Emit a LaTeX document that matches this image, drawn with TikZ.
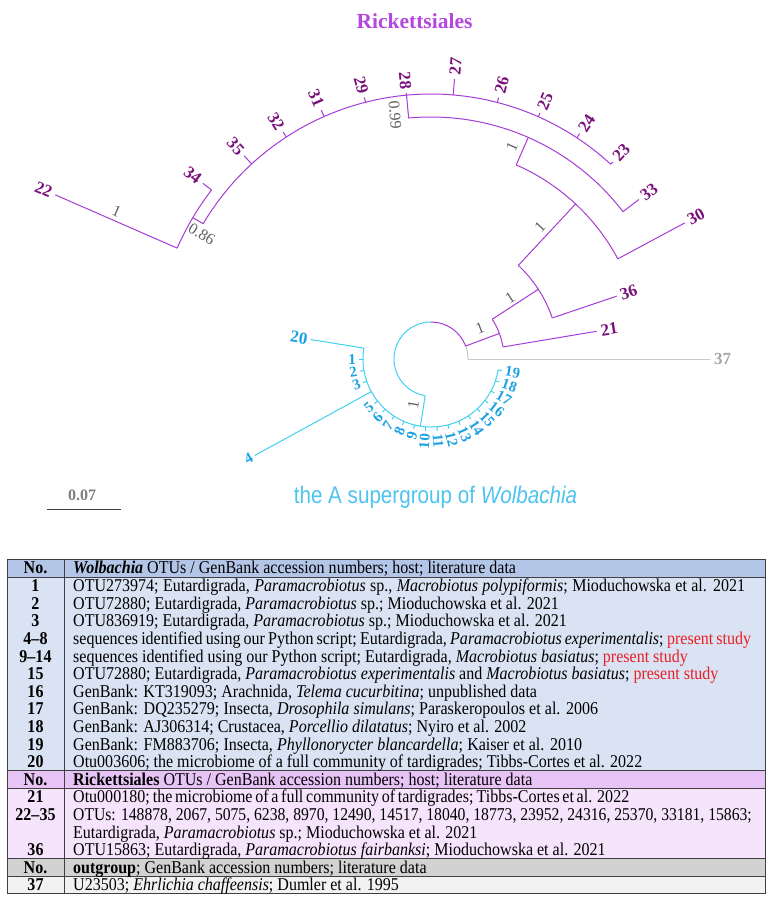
\documentclass[tikz,border=0pt]{standalone}
\usepackage{fontspec}
\setmainfont{Liberation Serif}
\newfontfamily\tabfont[FakeStretch=0.89]{Liberation Serif}
\newfontfamily\tabfontn[FakeStretch=0.87]{Liberation Serif}
\newfontfamily\narrowsans[FakeStretch=0.86]{Liberation Sans}
\definecolor{rickline}{RGB}{166,60,214}
\definecolor{ricklab}{RGB}{122,16,122}
\definecolor{wolbline}{RGB}{64,208,240}
\definecolor{wolblab}{RGB}{27,161,226}
\definecolor{outline}{RGB}{200,200,200}
\definecolor{outlab}{RGB}{165,165,165}
\definecolor{supgray}{RGB}{96,96,96}
\definecolor{titlepurple}{RGB}{179,71,224}
\definecolor{titleblue}{RGB}{77,195,240}
\definecolor{hone}{RGB}{180,198,231}
\definecolor{rone}{RGB}{218,227,243}
\definecolor{htwo}{RGB}{232,196,246}
\definecolor{rtwo}{RGB}{246,228,252}
\definecolor{hthree}{RGB}{210,210,210}
\definecolor{rthree}{RGB}{242,242,242}
\definecolor{tabline}{RGB}{64,64,64}
\definecolor{presred}{RGB}{235,30,35}
\tikzset{
  rick/.style={draw=rickline, line width=1pt},
  wolb/.style={draw=wolbline, line width=1pt},
  outg/.style={draw=outline, line width=1pt},
  rlab/.style={text=ricklab, font=\fontsize{17}{17}\selectfont\bfseries, inner sep=0pt},
  wlab/.style={text=wolblab, font=\fontsize{15}{15}\selectfont\bfseries, inner sep=0pt},
  blab/.style={text=supgray, font=\fontsize{16}{16}\selectfont, inner sep=0pt},
  cell/.style={anchor=base west, inner sep=0pt, font=\tabfont\fontsize{18}{18}\selectfont},
  numcell/.style={anchor=base, inner sep=0pt, font=\tabfont\fontsize{18}{18}\selectfont\bfseries},
  tabrule/.style={draw=tabline, line width=0.8pt},
}
\newcommand{\leaflab}[5]{%
  \ifdim #2pt>90pt\relax
    \ifdim #2pt<270pt\relax
      \node[#4, anchor=east, rotate={#2-180}] (#1) at (#2:#3) {#5};
    \else
      \node[#4, anchor=west, rotate=#2] (#1) at (#2:#3) {#5};
    \fi
  \else
    \node[#4, anchor=west, rotate=#2] (#1) at (#2:#3) {#5};
  \fi}
\newcommand{\rleaf}[4]{%
  \coordinate (b#1) at (#2:#3);
  \coordinate (t#1) at (#2:#4);
  \draw[rick] (b#1) -- (t#1);
  \pgfmathsetmacro{\labr}{#4+4}
  \leaflab{lab#1}{#2}{\labr}{rlab}{#1}}
\newcommand{\wleaf}[5][]{%
  \coordinate (b#2) at (#3:#4);
  \coordinate (t#2) at (#3:#5);
  \draw[wolb] (b#2) -- (t#2);
  \pgfmathsetmacro{\labr}{#5+3}
  \leaflab{lab#2}{#3}{\labr}{wlab,#1}{#2}}
\newcommand{\trow}[4]{%
  \node[numcell] (#1n) at (35.5,{-(#2+5.8)}) {#3};
  \node[cell] (#1t) at (73,{-(#2+5.8)}) {#4};}
\hbadness=10000
\begin{document}
\begin{tikzpicture}[x=1pt,y=1pt]
\useasboundingbox (0,0) rectangle (772,-912);
% titles
\node[text=titlepurple, font=\fontsize{21.5}{21.5}\selectfont\bfseries] (ttl) at (414.5,-21.5) {Rickettsiales};
\node[text=titleblue, font=\narrowsans\fontsize{24}{24}\selectfont] (ttw) at (435.5,-497) {the A supergroup of \textit{Wolbachia}};
% scale bar
\coordinate (sba) at (47,-509.5);
\coordinate (sbb) at (121,-509.5);
\draw[draw=tabline, line width=1.2pt] (sba) -- (sbb);
\node[text=gray, font=\fontsize{16}{16}\selectfont\bfseries] (sbl) at (82,-495) {0.07};
% tree
\begin{scope}[shift={(431,-359)}]
  % root
  \coordinate (root) at (0:37);
  \coordinate (Ab) at (20.5:37);
  \coordinate (Wb) at (261:37);
  \draw[outg] (root) arc[start angle=0, end angle=20.5, radius=37];
  \draw[rick] (Ab) arc[start angle=20.5, end angle=90, radius=37];
  \draw[wolb] (90:37) arc[start angle=90, end angle=261, radius=37];
  % outgroup
  \coordinate (t37) at (0:279);
  \draw[outg] (root) -- (t37);
  \node[text=outlab, font=\fontsize{17}{17}\selectfont\bfseries, inner sep=0pt, anchor=west] (lab37) at (0:283) {37};
  % Rickettsiales
  \coordinate (A) at (20.5:73);
  \draw[rick] (Ab) -- (A);
  \draw[rick] (9.5:73) arc[start angle=9.5, end angle=33, radius=73];
  \rleaf{21}{9.5}{73}{168}
  \coordinate (Bb) at (33:73); \coordinate (B) at (33:128);
  \draw[rick] (Bb) -- (B);
  \draw[rick] (18.7:128) arc[start angle=18.7, end angle=47, radius=128];
  \rleaf{36}{18.7}{128}{196}
  \coordinate (Cb) at (47:128); \coordinate (C) at (47:212);
  \draw[rick] (Cb) -- (C);
  \draw[rick] (28.2:212) arc[start angle=28.2, end angle=66.3, radius=212];
  \rleaf{30}{28.2}{212}{288}
  \coordinate (Db) at (66.3:212); \coordinate (D) at (66.3:242);
  \draw[rick] (Db) -- (D);
  \draw[rick] (37.5:242) arc[start angle=37.5, end angle=95.3, radius=242];
  \rleaf{33}{37.5}{242}{262}
  \coordinate (Eb) at (95.3:242); \coordinate (E) at (95.3:265);
  \draw[rick] (Eb) -- (E);
  \draw[rick] (47.3:265) arc[start angle=47.3, end angle=149.3, radius=265];
  \rleaf{23}{47.3}{265}{268}
  \rleaf{24}{56.6}{265}{270}
  \rleaf{25}{66.1}{265}{269}
  \rleaf{26}{75.5}{265}{270}
  \rleaf{27}{85.2}{265}{281}
  \rleaf{28}{95.3}{265}{267}
  \rleaf{29}{104.3}{265}{270}
  \rleaf{31}{113.8}{265}{272}
  \rleaf{32}{123.1}{265}{271}
  \rleaf{35}{132.6}{265}{276}
  \coordinate (Fb) at (149.3:265); \coordinate (F) at (149.3:277);
  \draw[rick] (Fb) -- (F);
  \draw[rick] (142.4:277) arc[start angle=142.4, end angle=156.4, radius=277];
  \rleaf{34}{142.4}{277}{288}
  \rleaf{22}{156.4}{277}{410}
  % Wolbachia
  \coordinate (W) at (261:68);
  \draw[wolb] (Wb) -- (W);
  \draw[wolb] (170.8:68) arc[start angle=170.8, end angle=350.8, radius=68];
  \wleaf[font=\fontsize{17}{17}\selectfont\bfseries]{20}{170.8}{68}{122}
  \wleaf{1}{180.27}{68}{72}
  \wleaf{2}{189.75}{68}{72}
  \wleaf{3}{199.22}{68}{72}
  \wleaf{4}{208.69}{68}{201}
  \wleaf{5}{218.17}{68}{72}
  \wleaf{6}{227.64}{68}{72}
  \wleaf{7}{237.12}{68}{72}
  \wleaf{8}{246.59}{68}{72}
  \wleaf{9}{256.06}{68}{72}
  \wleaf{10}{265.54}{68}{72}
  \wleaf{11}{275.01}{68}{72}
  \wleaf{12}{284.48}{68}{72}
  \wleaf{13}{293.96}{68}{72}
  \wleaf{14}{303.43}{68}{72}
  \wleaf{15}{312.91}{68}{72}
  \wleaf{16}{322.38}{68}{72}
  \wleaf{17}{331.85}{68}{72}
  \wleaf{18}{341.33}{68}{72}
  \wleaf{19}{350.8}{68}{72}
  % support values
  \node[blab, rotate=21] (sA) at (49,31) {1};
  \node[blab, rotate=33] (sB) at (79,61) {1};
  \node[blab, rotate=47] (sC) at (109,132) {1};
  \node[blab, rotate=66] (sD) at (81,212) {1};
  \node[blab, rotate=-85] (sE) at (-36,244) {0.99};
  \node[blab, rotate=-31] (sF) at (-229.3,125) {0.86};
  \node[blab, rotate=-23.6] (s22) at (-314.3,147.3) {1};
  \node[blab, rotate=81] (sW) at (-17.7,-46) {1};
\end{scope}
% table backgrounds
\fill[hone] (7,-559) rectangle (765,-577);
\fill[rone] (7,-577) rectangle (765,-770.6);
\fill[htwo] (7,-770.6) rectangle (765,-788.2);
\fill[rtwo] (7,-788.2) rectangle (765,-858.6);
\fill[hthree] (7,-858.6) rectangle (765,-876.2);
\fill[rthree] (7,-876.2) rectangle (765,-893.8);
\draw[tabrule] (7,-559) rectangle (765,-893.8);
\draw[tabrule] (64,-559) -- (64,-893.8);
\foreach \yy in {577,770.6,788.2,858.6,876.2} {\draw[tabrule] (7,-\yy) -- (765,-\yy);}
% table text
\trow{ha}{568}{No.}{\textbf{\textit{Wolbachia}} OTUs / GenBank accession numbers; host; literature data}
\trow{ra}{585.8}{1}{\hbox to 672pt{OTU273974; Eutardigrada, \textit{Paramacrobiotus} sp., \textit{Macrobiotus polypiformis}; Mioduchowska et al. 2021}}
\trow{rb}{603.4}{2}{OTU72880; Eutardigrada, \textit{Paramacrobiotus} sp.; Mioduchowska et al. 2021}
\trow{rc}{621}{3}{OTU836919; Eutardigrada, \textit{Paramacrobiotus} sp.; Mioduchowska et al. 2021}
\trow{rd}{638.6}{4–8}{\hbox to 678pt{sequences identified using our Python script; Eutardigrada, \textit{Paramacrobiotus experimentalis}; \textcolor{presred}{present study}}}
\trow{re}{656.2}{9–14}{sequences identified using our Python script; Eutardigrada, \textit{Macrobiotus basiatus}; \textcolor{presred}{present study}}
\trow{rf}{673.8}{15}{OTU72880; Eutardigrada, \textit{Paramacrobiotus experimentalis} and \textit{Macrobiotus basiatus}; \textcolor{presred}{present study}}
\trow{rg}{691.4}{16}{GenBank: KT319093; Arachnida, \textit{Telema cucurbitina}; unpublished data}
\trow{rh}{709}{17}{\hbox to 525pt{GenBank: DQ235279; Insecta, \textit{Drosophila simulans}; Paraskeropoulos et al. 2006}}
\trow{ri}{726.6}{18}{GenBank: AJ306314; Crustacea, \textit{Porcellio dilatatus}; Nyiro et al. 2002}
\trow{rj}{744.2}{19}{\hbox to 509pt{GenBank: FM883706; Insecta, \textit{Phyllonorycter blancardella}; Kaiser et al. 2010}}
\trow{rk}{761.8}{20}{\hbox to 569pt{Otu003606; the microbiome of a full community of tardigrades; Tibbs-Cortes et al. 2022}}
\trow{hb}{779.4}{No.}{\textbf{Rickettsiales} OTUs / GenBank accession numbers; host; literature data}
\trow{rl}{797}{21}{\hbox to 556pt{Otu000180; the microbiome of a full community of tardigrades; Tibbs-Cortes et al. 2022}}
\trow{rm}{814.6}{22–35}{\tabfontn\fontsize{18}{18}\selectfont OTUs: 148878, 2067, 5075, 6238, 8970, 12490, 14517, 18040, 18773, 23952, 24316, 25370, 33181, 15863;}
\node[cell] (rmc) at (73,-838) {Eutardigrada, \textit{Paramacrobiotus} sp.; Mioduchowska et al. 2021};
\trow{rn}{849.8}{36}{OTU15863; Eutardigrada, \textit{Paramacrobiotus fairbanksi}; Mioduchowska et al. 2021}
\trow{hc}{867.4}{No.}{\textbf{outgroup}; GenBank accession numbers; literature data}
\trow{ro}{885}{37}{U23503; \textit{Ehrlichia chaffeensis}; Dumler et al. 1995}
\end{tikzpicture}
\end{document}
